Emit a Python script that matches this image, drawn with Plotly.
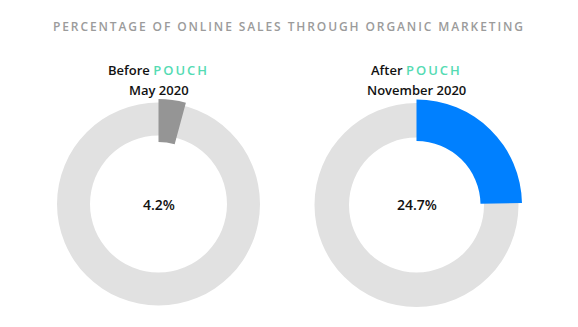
import plotly.graph_objects as go

W, H = 578, 327
title_text = "PERCENTAGE OF ONLINE SALES THROUGH ORGANIC MARKETING"
periods = ["Before", "After"]
brand = "POUCH"
dates = ["May 2020", "November 2020"]
values = [4.2, 24.7]
labels = ["4.2%", "24.7%"]
highlight_colors = ["#959595", "#0080ff"]
ring_color = "#e1e1e1"

# geometry (pixels)
centers = [(158.5, 204), (416.5, 205)]
ring_r = [101.5, 102]
ring_inner = [68.5, 67.5]
hi_r = [105, 105.5]
hi_inner = [62, 64]

FONT = "Open Sans"


def dom(cx, cy, r):
    return dict(x=[(cx - r) / W, (cx + r) / W],
                y=[(H - cy - r) / H, (H - cy + r) / H])


fig = go.Figure()
for i in range(2):
    cx, cy = centers[i]
    fig.add_trace(go.Pie(values=[100], labels=["rest"], marker=dict(colors=[ring_color], line=dict(width=0)),
                         hole=ring_inner[i] / ring_r[i], domain=dom(cx, cy, ring_r[i]),
                         textinfo="none", hoverinfo="skip", sort=False, direction="clockwise",
                         showlegend=False))
    fig.add_trace(go.Pie(values=[values[i], 100 - values[i]], labels=["POUCH", "other"],
                         marker=dict(colors=[highlight_colors[i], "rgba(0,0,0,0)"], line=dict(width=0)),
                         hole=hi_inner[i] / hi_r[i], domain=dom(cx, cy, hi_r[i]),
                         textinfo="none", hoverinfo="skip", sort=False, direction="clockwise",
                         rotation=0, showlegend=False))
    fig.add_annotation(x=cx / W, y=(H - cy) / H, xref="paper", yref="paper", text=labels[i],
                       showarrow=False, font=dict(size=14, color="#111", family=FONT, weight=600),
                       xanchor="center", yanchor="middle")
    fig.add_annotation(x=cx / W, y=(H - 80) / H, xref="paper", yref="paper",
                       text=f"{periods[i]} <span style='color:#55dbb3;letter-spacing:2px'>{brand}</span>",
                       showarrow=False, font=dict(size=13, color="#111", family=FONT, weight=600),
                       xanchor="center", yanchor="bottom", borderpad=0)
    fig.add_annotation(x=cx / W, y=(H - 80) / H, xref="paper", yref="paper", text=dates[i],
                       showarrow=False, font=dict(size=13, color="#111", family=FONT, weight=600),
                       xanchor="center", yanchor="top", borderpad=0)

fig.add_annotation(x=289 / W, y=(H - 26) / H, xref="paper", yref="paper",
                   text=f"<span style='letter-spacing:1.9px'>{title_text}</span>",
                   showarrow=False, font=dict(size=12, color="#9b9b9b", family=FONT, weight=600),
                   xanchor="center", yanchor="middle")

fig.update_layout(width=W, height=H, margin=dict(l=0, r=0, t=0, b=0),
                  paper_bgcolor="white", plot_bgcolor="white")
fig.write_html("out.html")
